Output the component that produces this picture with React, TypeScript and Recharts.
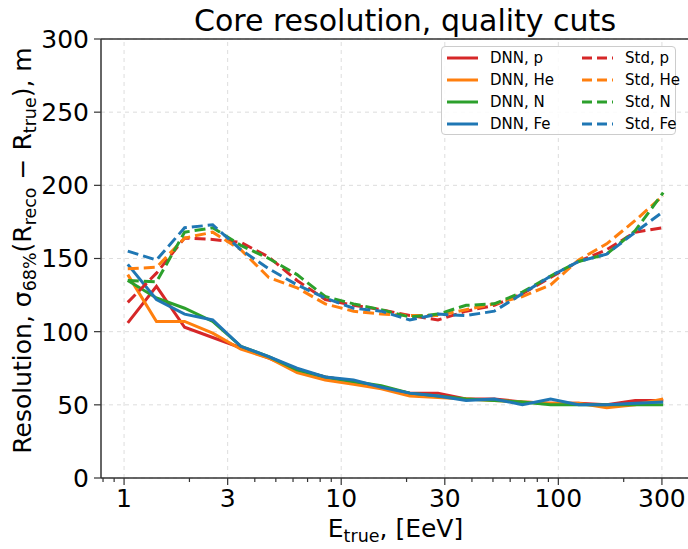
import React from 'react';
import { LineChart, Line, XAxis, YAxis, CartesianGrid, ReferenceLine, Legend } from 'recharts';

const FONT = '"DejaVu Sans", Verdana, sans-serif';

// Energy bin centres, EeV
const energies = [1.04, 1.41, 1.9, 2.56, 3.45, 4.64, 6.26, 8.44, 11.4, 15.3, 20.7, 27.9, 37.6, 50.7, 68.3, 92.1, 124, 167, 226, 304];

// 68% core resolution, metres
const dnnP = [106, 131, 103, 96, 89, 82, 74, 69, 66, 62, 58, 58, 54, 54, 52, 51, 51, 50, 53, 53];
const dnnHe = [139, 107, 107, 99, 88, 82, 72, 67, 64, 61, 56, 55, 54, 53, 52, 51, 51, 48, 50, 54];
const dnnN = [135, 123, 116, 107, 90, 83, 74, 69, 66, 63, 58, 56, 54, 53, 52, 50, 50, 50, 50, 50];
const dnnFe = [146, 122, 112, 108, 90, 83, 75, 69, 67, 62, 58, 56, 53, 54, 50, 54, 50, 50, 51, 52];

const stdP = [120, 140, 164, 163, 161, 151, 135, 122, 118, 115, 111, 108, 114, 118, 126, 137, 148, 156, 168, 171];
const stdHe = [143, 144, 164, 168, 156, 137, 130, 119, 114, 112, 111, 111, 115, 119, 124, 132, 149, 160, 176, 193];
const stdN = [135, 134, 168, 171, 159, 150, 139, 124, 119, 115, 110, 112, 118, 119, 127, 138, 148, 153, 169, 195];
const stdFe = [155, 149, 171, 173, 156, 143, 132, 123, 116, 114, 108, 112, 111, 114, 126, 138, 148, 153, 168, 182];

const majorX = [1, 3, 10, 30, 100, 300];
const minorX = [0.8, 0.9, 2, 4, 5, 6, 7, 8, 9, 20, 40, 50, 60, 70, 80, 90, 200, 400];
const yTicks = [0, 50, 100, 150, 200, 250, 300];

const series = [
  { key: 'dnnP', name: 'DNN, p', values: dnnP, color: '#d62728', dashed: false },
  { key: 'dnnHe', name: 'DNN, He', values: dnnHe, color: '#ff7f0e', dashed: false },
  { key: 'dnnN', name: 'DNN, N', values: dnnN, color: '#2ca02c', dashed: false },
  { key: 'dnnFe', name: 'DNN, Fe', values: dnnFe, color: '#1f77b4', dashed: false },
  { key: 'stdP', name: 'Std, p', values: stdP, color: '#d62728', dashed: true },
  { key: 'stdHe', name: 'Std, He', values: stdHe, color: '#ff7f0e', dashed: true },
  { key: 'stdN', name: 'Std, N', values: stdN, color: '#2ca02c', dashed: true },
  { key: 'stdFe', name: 'Std, Fe', values: stdFe, color: '#1f77b4', dashed: true },
];

const data = energies.map((e, i) => {
  const row: Record<string, number> = { energy: e };
  series.forEach((s) => {
    row[s.key] = s.values[i];
  });
  return row;
});

const DASH = '11 5';
const AXIS = '#333';

const XTick = (props: any) => {
  const { x, y, payload } = props;
  const major = majorX.includes(payload.value);
  return (
    <g>
      <line x1={x} y1={y} x2={x} y2={y + (major ? 7 : 4)} stroke={AXIS} strokeWidth={1.2} />
      {major && (
        <text x={x} y={y + 11} dy="0.71em" textAnchor="middle" fontSize={25} fill="#000" fontFamily={FONT}>
          {payload.value}
        </text>
      )}
    </g>
  );
};

const XTitle = (props: any) => {
  const { viewBox } = props;
  const cx = viewBox.x + viewBox.width / 2;
  return (
    <text x={cx} y={viewBox.y + 59} textAnchor="middle" fontSize={25} fill="#000" fontFamily={FONT}>
      E
      <tspan dy={5} fontSize={17.5}>true</tspan>
      <tspan dy={-5}>, [EeV]</tspan>
    </text>
  );
};

const YTitle = (props: any) => {
  const { viewBox } = props;
  const cy = viewBox.y + viewBox.height / 2 - 8;
  return (
    <text transform={`translate(31,${cy}) rotate(-90)`} textAnchor="middle" fontSize={25} fill="#000" fontFamily={FONT}>
      Resolution, σ
      <tspan dy={5} fontSize={17.5}>68%</tspan>
      <tspan dy={-5}>(R</tspan>
      <tspan dy={5} fontSize={17.5}>reco</tspan>
      <tspan dy={-5}> − R</tspan>
      <tspan dy={5} fontSize={17.5}>true</tspan>
      <tspan dy={-5}>), m</tspan>
    </text>
  );
};

const LegendBox = () => (
  <div
    style={{
      position: 'relative',
      width: 235,
      height: 89,
      boxSizing: 'border-box',
      background: 'rgba(255,255,255,0.85)',
      border: '1px solid #ccc',
      borderRadius: 4,
      fontFamily: FONT,
      fontSize: 15,
      color: '#000',
    }}
  >
    {series.map((s, i) => {
      const col = Math.floor(i / 4);
      const row = i % 4;
      return (
        <div
          key={s.key}
          style={{
            position: 'absolute',
            left: col ? 140 : 5,
            top: 1 + row * 21.9,
            height: 20,
            display: 'flex',
            alignItems: 'center',
            whiteSpace: 'nowrap',
          }}
        >
          <svg width={31} height={6}>
            <line x1={0} y1={3} x2={31} y2={3} stroke={s.color} strokeWidth={3} strokeDasharray={s.dashed ? '10 5' : undefined} />
          </svg>
          <span style={{ marginLeft: 12 }}>{s.name}</span>
        </div>
      );
    })}
  </div>
);

const App: React.FC = () => {
  return (
    <div style={{ position: 'absolute', left: 0, top: 0, width: 688, height: 549, overflow: 'hidden', background: '#fff' }}>
      <div
        style={{
          position: 'absolute',
          left: 0,
          top: 6,
          width: 810,
          textAlign: 'center',
          fontFamily: FONT,
          fontSize: 30,
          lineHeight: '30px',
          color: '#000',
          whiteSpace: 'nowrap',
        }}
      >
        Core resolution, quality cuts
      </div>
      <LineChart width={700} height={549} data={data} margin={{ top: 39, right: 10, bottom: 0, left: 0 }}>
        <CartesianGrid vertical={false} stroke="#ddd" strokeDasharray="4 4" />
        {majorX.map((v) => (
          <ReferenceLine key={`gx-${v}`} x={v} stroke="#ddd" strokeDasharray="4 4" />
        ))}
        <ReferenceLine y={300} stroke={AXIS} strokeWidth={1.5} />
        <XAxis
          dataKey="energy"
          type="number"
          scale="log"
          domain={[0.783, 404]}
          allowDataOverflow
          ticks={[...majorX, ...minorX].sort((a, b) => a - b)}
          interval={0}
          tick={<XTick />}
          tickLine={false}
          tickSize={0}
          tickMargin={0}
          height={71}
          axisLine={{ stroke: AXIS, strokeWidth: 1.5 }}
          label={<XTitle />}
        />
        <YAxis
          type="number"
          domain={[0, 300]}
          ticks={yTicks}
          width={101}
          tickSize={7}
          tickMargin={5}
          tick={{ fontSize: 25, fill: '#000', fontFamily: FONT }}
          tickLine={{ stroke: AXIS, strokeWidth: 1.2 }}
          axisLine={{ stroke: AXIS, strokeWidth: 1.5 }}
          label={<YTitle />}
        />
        {series.map((s) => (
          <Line
            key={s.key}
            type="linear"
            dataKey={s.key}
            name={s.name}
            stroke={s.color}
            strokeWidth={3}
            strokeDasharray={s.dashed ? DASH : undefined}
            dot={false}
            activeDot={false}
            isAnimationActive={false}
          />
        ))}
        <Legend
          layout="horizontal"
          verticalAlign="middle"
          align="center"
          wrapperStyle={{ left: 441, top: 46, width: 235 }}
          content={() => <LegendBox />}
        />
      </LineChart>
    </div>
  );
};

export default App;
